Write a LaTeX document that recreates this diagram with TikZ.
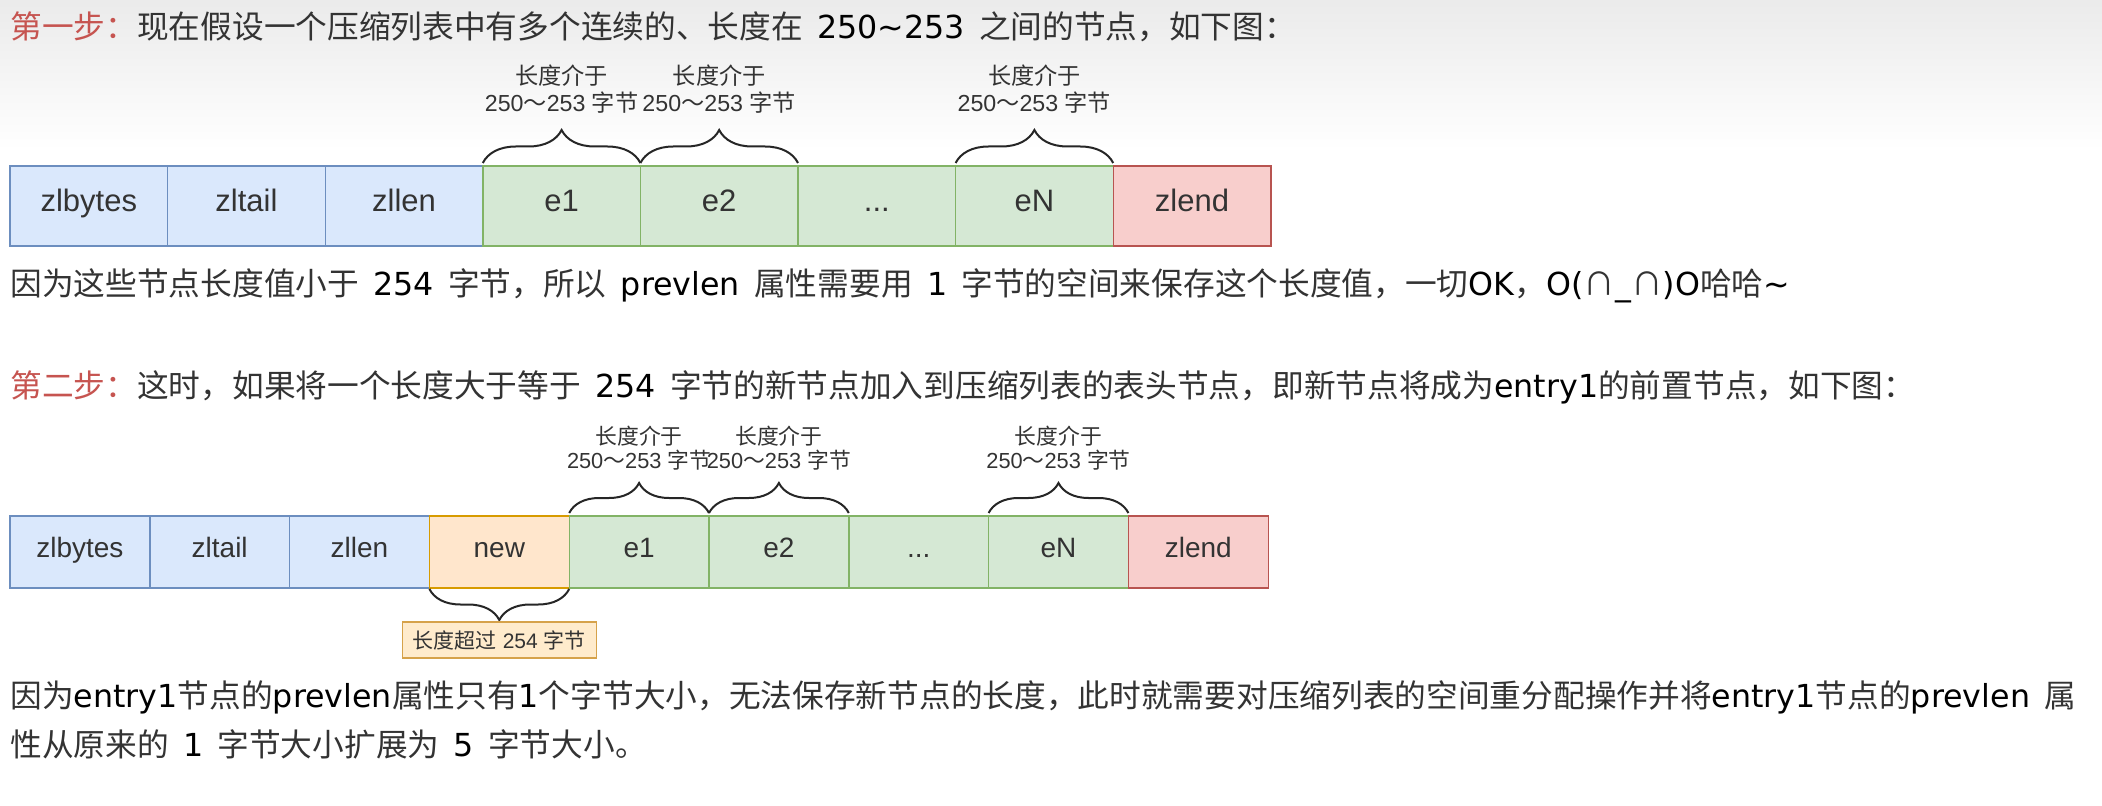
\documentclass[tikz,border=0pt]{standalone}
\usepackage{fontspec}
\setmainfont{Liberation Sans}
\newfontfamily\cjk{Noto Sans CJK SC}
\newfontfamily\latn{DejaVu Sans}
\usetikzlibrary{positioning,decorations.pathreplacing}

\definecolor{blueFill}{HTML}{DAE8FC}
\definecolor{blueLine}{HTML}{6C8EBF}
\definecolor{greenFill}{HTML}{D5E8D4}
\definecolor{greenLine}{HTML}{82B366}
\definecolor{redFill}{HTML}{F8CECC}
\definecolor{redLine}{HTML}{B85450}
\definecolor{orangeFill}{HTML}{FFE6CC}
\definecolor{orangeLine}{HTML}{D79B00}
\definecolor{noteFill}{HTML}{FFEBCC}
\definecolor{noteLine}{HTML}{D6A24A}
\definecolor{cellText}{HTML}{333333}
\definecolor{bodyGray}{HTML}{333333}
\definecolor{stepRed}{HTML}{C65450}

\newcommand{\entxt}[1]{{\latn\color{black}#1}}
\newcommand{\wsp}{\hspace{0.45em}}

\tikzstyle{cell}=[draw, outer sep=0pt, inner sep=0pt, line width=0.7pt, text=cellText, text height=0.72em, text depth=0.2em]
\tikzstyle{bigcell}=[cell, minimum width=78.8pt, minimum height=40pt, font=\fontsize{15.5}{18}\selectfont]
\tikzstyle{smallcell}=[cell, minimum width=69.9pt, minimum height=36pt, font=\fontsize{14}{16}\selectfont]
\tikzstyle{hdr}=[fill=blueFill, draw=blueLine]
\tikzstyle{entry}=[fill=greenFill, draw=greenLine]
\tikzstyle{newentry}=[fill=orangeFill, draw=orangeLine]
\tikzstyle{tail}=[fill=redFill, draw=redLine]
\tikzstyle{rangebrace}=[decorate, line width=1pt, draw=black!85]
\tikzstyle{rangelabel}=[align=center, inner sep=0pt, text=cellText]
\tikzstyle{para}=[anchor=west, inner sep=0pt, text=bodyGray, font=\cjk\fontsize{15.85}{19}\selectfont]
\tikzstyle{notebox}=[draw=noteLine, fill=noteFill, line width=0.7pt, minimum width=97pt, minimum height=18pt, inner sep=0pt, text=cellText, font=\fontsize{10.5}{12}\selectfont]

\begin{document}
\begin{tikzpicture}[x=0.5pt, y=-0.5pt]
    \useasboundingbox (0,0) rectangle (2102,806);
    \shade[top color=black!8, bottom color=white] (0,0) rectangle (2102,150);

    % step one
    \node[para] (s1) at (10,27) {\textcolor{stepRed}{第一步：}现在假设一个压缩列表中有多个连续的、长度在\wsp\entxt{250\textasciitilde 253}\wsp 之间的节点，如下图：};

    % first list
    \node[bigcell, hdr] (a1) at (88.8,206) {zlbytes};
    \node[bigcell, hdr, right=0pt of a1] (a2) {zltail};
    \node[bigcell, hdr, right=0pt of a2] (a3) {zllen};
    \node[bigcell, entry, right=0pt of a3] (a4) {e1};
    \node[bigcell, entry, right=0pt of a4] (a5) {e2};
    \node[bigcell, entry, right=0pt of a5] (a6) {...};
    \node[bigcell, entry, right=0pt of a6] (a7) {eN};
    \node[bigcell, tail, right=0pt of a7] (a8) {zlend};

    % braces over the entries
    \draw[rangebrace, decoration={brace, amplitude=16.5pt}] ([yshift=1.5pt]a4.north west) -- ([yshift=1.5pt]a4.north east);
    \draw[rangebrace, decoration={brace, amplitude=16.5pt}] ([yshift=1.5pt]a5.north west) -- ([yshift=1.5pt]a5.north east);
    \draw[rangebrace, decoration={brace, amplitude=16.5pt}] ([yshift=1.5pt]a7.north west) -- ([yshift=1.5pt]a7.north east);
    \node[rangelabel, font=\fontsize{11.6}{13.9}\selectfont] (l1) at (561.6,89) {{\cjk 长度介于}\\250{\cjk ～}253 {\cjk 字节}};
    \node[rangelabel, font=\fontsize{11.6}{13.9}\selectfont] (l2) at (719.2,89) {{\cjk 长度介于}\\250{\cjk ～}253 {\cjk 字节}};
    \node[rangelabel, font=\fontsize{11.6}{13.9}\selectfont] (l3) at (1034.4,89) {{\cjk 长度介于}\\250{\cjk ～}253 {\cjk 字节}};

    \node[para] (p1) at (10,285.5) {因为这些节点长度值小于\wsp\entxt{254}\wsp 字节，所以\wsp\entxt{prevlen}\wsp 属性需要用\wsp\entxt{1}\wsp 字节的空间来保存这个长度值，一切\entxt{OK}，\entxt{O(}∩\entxt{\_}∩\entxt{)O}哈哈\entxt{\textasciitilde}};

    % step two
    \node[para] (s2) at (10,387) {\textcolor{stepRed}{第二步：}这时，如果将一个长度大于等于\wsp\entxt{254}\wsp 字节的新节点加入到压缩列表的表头节点，即新节点将成为\entxt{entry1}的前置节点，如下图：};

    % second list
    \node[smallcell, hdr] (b1) at (79.9,552) {zlbytes};
    \node[smallcell, hdr, right=0pt of b1] (b2) {zltail};
    \node[smallcell, hdr, right=0pt of b2] (b3) {zllen};
    \node[smallcell, newentry, right=0pt of b3] (b4) {new};
    \node[smallcell, entry, right=0pt of b4] (b5) {e1};
    \node[smallcell, entry, right=0pt of b5] (b6) {e2};
    \node[smallcell, entry, right=0pt of b6] (b7) {...};
    \node[smallcell, entry, right=0pt of b7] (b8) {eN};
    \node[smallcell, tail, right=0pt of b8] (b9) {zlend};

    \draw[rangebrace, decoration={brace, amplitude=15pt}] ([yshift=1.5pt]b5.north west) -- ([yshift=1.5pt]b5.north east);
    \draw[rangebrace, decoration={brace, amplitude=15pt}] ([yshift=1.5pt]b6.north west) -- ([yshift=1.5pt]b6.north east);
    \draw[rangebrace, decoration={brace, amplitude=15pt}] ([yshift=1.5pt]b8.north west) -- ([yshift=1.5pt]b8.north east);
    \node[rangelabel, font=\fontsize{10.9}{12}\selectfont] (m1) at (639.1,448) {{\cjk 长度介于}\\250{\cjk ～}253 {\cjk 字节}};
    \node[rangelabel, font=\fontsize{10.9}{12}\selectfont] (m2) at (778.9,448) {{\cjk 长度介于}\\250{\cjk ～}253 {\cjk 字节}};
    \node[rangelabel, font=\fontsize{10.9}{12}\selectfont] (m3) at (1058.5,448) {{\cjk 长度介于}\\250{\cjk ～}253 {\cjk 字节}};

    % brace under the new entry
    \draw[rangebrace, decoration={brace, amplitude=15.5pt}] ([yshift=-0.5pt]b4.south east) -- ([yshift=-0.5pt]b4.south west);
    \node[notebox] (note) at (499.3,640) {{\cjk 长度超过} 254 {\cjk 字节}};

    \node[para] (p2) at (10,697) {因为\entxt{entry1}节点的\entxt{prevlen}属性只有\entxt{1}个字节大小，无法保存新节点的长度，此时就需要对压缩列表的空间重分配操作并将\entxt{entry1}节点的\entxt{prevlen}\wsp 属};
    \node[para] (p3) at (10,744) {性从原来的\wsp\entxt{1}\wsp 字节大小扩展为\wsp\entxt{5}\wsp 字节大小。};
\end{tikzpicture}
\end{document}
